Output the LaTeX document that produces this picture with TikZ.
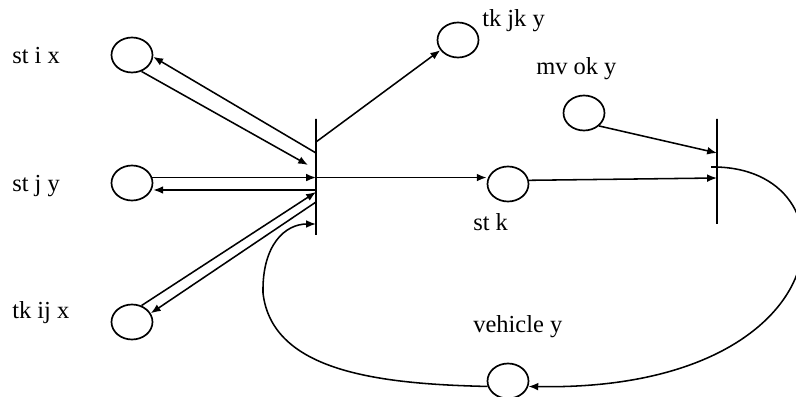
\documentclass[tikz,border=0pt]{standalone}
\usepackage{fontspec}
\setmainfont{Liberation Serif}
\usetikzlibrary{shapes.geometric, arrows.meta}

\begin{document}
\begin{tikzpicture}[
    place/.style={draw, ellipse, line width=1.2pt, minimum width=1.025cm, minimum height=0.875cm, inner sep=0pt},
    trans/.style={draw, line width=1.2pt, minimum width=0pt, inner sep=0pt},
    arc/.style={-{Latex[length=7pt, width=5.5pt]}, line width=1.1pt},
    lbl/.style={anchor=base west, inner sep=0pt, font=\fontsize{17.4}{20}\selectfont}
]
        \useasboundingbox (0,0) rectangle (19.9,9.9);

        % Places
        \node[place] (stix) at (3.3, 8.525) {};
        \node[place] (stjy) at (3.3, 5.325) {};
        \node[place] (tkijx) at (3.3, 1.85) {};
        \node[place] (tkjky) at (11.45, 8.9) {};
        \node[place] (mvoky) at (14.6, 7.075) {};
        \node[place] (stk) at (12.7, 5.3) {};
        \node[place] (vehy) at (12.7, 0.375) {};

        % Transitions
        \node[trans, minimum height=2.9cm] (t1) at (7.9, 5.475) {};
        \node[trans, minimum height=2.625cm] (t2) at (17.925, 5.6125) {};

        % Labels
        \node[lbl] (lstix) at (0.3, 8.3) {st i x};
        \node[lbl] (lstjy) at (0.3, 5.1) {st j y};
        \node[lbl] (ltkijx) at (0.3, 1.95) {tk ij x};
        \node[lbl] (ltkjky) at (12.05, 9.225) {tk jk y};
        \node[lbl] (lmvoky) at (13.4, 8.025) {mv ok y};
        \node[lbl] (lstk) at (11.825, 4.125) {st k};
        \node[lbl] (lvehy) at (11.825, 1.6) {vehicle y};

        % Arcs into and out of the first transition
        \draw[arc] (stix.-60) -- ([xshift=-0.2cm, yshift=0.3cm]t1.center);
        \draw[arc] ([yshift=0.6cm]t1.center) -- (stix.-5);
        \draw[arc] (stjy.15) -- (stjy.15 -| t1.center);
        \draw[arc] ([yshift=-0.325cm]t1.center) -- ([yshift=-0.325cm]t1.center -| stjy.east);
        \draw[arc] (tkijx.60) -- ([yshift=-0.375cm]t1.center);
        \draw[arc] ([yshift=-0.625cm]t1.center) -- (tkijx.25);
        \draw[arc] ([yshift=0.875cm]t1.center) -- (tkjky.210);
        \draw[arc] (stjy.15 -| t1.center) -- (stjy.15 -| stk.west);

        % Arcs of the second transition
        \draw[arc] (stk.10) -- ([yshift=-0.1625cm]t2.center);
        \draw[arc] (mvoky.south east) -- ([yshift=0.4625cm]t2.center);
        \draw[arc] ([xshift=-0.15cm, yshift=0.1125cm]t2.center)
            .. controls (21.5, 5.775) and (21.125, 0.1) .. (vehy.-15);

        % Vehicle back to the first transition
        \draw[arc] (vehy.195) .. controls (9.5, 0.3) and (6.8, 0.6) .. (6.575, 2.575)
            .. controls (6.55, 3.775) and (7.125, 4.3) .. ([yshift=-1.175cm]t1.center);
    \end{tikzpicture}
\end{document}
